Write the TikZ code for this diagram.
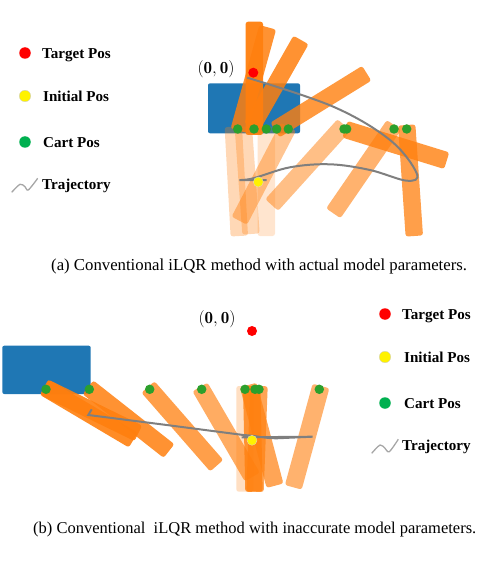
\documentclass[tikz,border=0pt]{standalone}
\usepackage{xcolor}
\usepackage{fontspec}
\usepackage{tikz}
\usetikzlibrary{calc}
\newfontfamily\capfont{Liberation Serif}
\definecolor{cpCart}{HTML}{1F77B4}
\definecolor{cpPole}{HTML}{FF7F0E}
\definecolor{cpPivot}{HTML}{2CA02C}
\definecolor{cpCartKey}{HTML}{00B050}
\definecolor{cpTraj}{HTML}{7F7F7F}
\definecolor{cpKey}{HTML}{A6A6A6}
\tikzset{
  cart/.style={fill=cpCart, rounded corners=2pt},
  pole/.style={fill=cpPole, rounded corners=2.5pt},
  dot/.style={circle, inner sep=0pt, minimum size=10pt},
  target/.style={dot, fill=red},
  initpos/.style={dot, fill=yellow, draw=black!15, line width=.3pt},
  pivot/.style={dot, fill=cpPivot, minimum size=9.5pt},
  keydot/.style={dot, minimum size=11.5pt},
  traj/.style={cpTraj, line width=2pt},
  keytraj/.style={cpKey, line width=1.3pt},
  keytext/.style={font=\capfont\fontsize{15.1}{17}\selectfont\bfseries, anchor=west, inner sep=0pt},
  caption/.style={font=\capfont\fontsize{16.75}{19}\selectfont, anchor=west, inner sep=0pt},
  origin/.style={font=\fontsize{17}{19}\selectfont, inner sep=0pt}
}
\newcommand{\polebar}[5]{
  \fill[pole, opacity=#5]
    ($(#1,#2)!8.7pt!90:(#3,#4)$) -- ($(#3,#4)!8.7pt!-90:(#1,#2)$) --
    ($(#3,#4)!8.7pt!90:(#1,#2)$) -- ($(#1,#2)!8.7pt!-90:(#3,#4)$) -- cycle;
}
\begin{document}
\begin{tikzpicture}[x=1pt, y=-1pt]
  \useasboundingbox (0,0) rectangle (479,564);

  \fill[cart] (208,83.3) rectangle (300,133.3);
  \foreach \xa/\ya/\xb/\yb/\op in {
    266.3/126.7/266.3/236/.2, 233.3/126.7/239.3/236/.3, 243.3/126.7/251/234/.3,
    288.3/126.7/239.3/220.7/.45, 344/125/271.7/205/.5, 394/125/333.3/213.3/.6,
    406.7/125/414.3/236/.75, 345/129.3/446.7/160.7/.8, 366.7/73.3/275/130/.8,
    301/40/251.7/126.7/.85, 267.7/27.3/239/130.7/.85, 254.3/21.7/254.3/135/.95}
    {\polebar{\xa}{\ya}{\xb}{\yb}{\op}}

  \draw[traj] plot[smooth, tension=.6] coordinates {(247.3,77.7) (333.3,106.7) (390,140)
    (416.7,173.3) (406.7,180.7) (370,170) (330,164.3) (290,167.3) (253.3,178.3) (239.3,180)}
    -- (266.7,180);

  \foreach \px/\py [count=\i] in {237.7/129, 254/129, 266.3/129, 276.7/129, 288.3/129,
    344/129, 346.7/129, 394/129, 406.7/129}
    \node[pivot] (upiv\i) at (\px,\py) {};
  \node[target] (utarget) at (253.3,72.7) {};
  \node[initpos] (uinit) at (258.3,182) {};
  \node[origin] (uorigin) at (216,69) {$(\mathbf{0},\mathbf{0})$};

  \node[keydot, fill=red] (ukeya) at (25,53) {};
  \node[keydot, fill=yellow, draw=black!20, line width=.3pt] (ukeyb) at (25,96) {};
  \node[keydot, fill=cpCartKey] (ukeyc) at (25,142) {};
  \node[keytext] (ulabela) at (42,55) {Target Pos};
  \node[keytext] (ulabelb) at (43,96.5) {Initial Pos};
  \node[keytext] (ulabelc) at (43,143) {Cart Pos};
  \node[keytext] (ulabeld) at (42,186) {Trajectory};
  \draw[keytraj] plot[smooth] coordinates {(11.7,192.3) (20,184.3) (25,186.7) (28.3,190) (37.7,178.3)};

  \node[caption] (ucaption) at (51,266) {(a) Conventional iLQR method with actual model parameters.};

  \fill[cart] (2.3,345.7) rectangle (90.7,394);
  \foreach \xa/\ya/\xb/\yb/\op in {
    245/386/245/491.7/.25, 321/386/293.3/487.3/.6, 200/387/252.3/477/.65,
    148/387/216.7/465.7/.75, 248.3/385/275/485.7/.7, 259/386/255/491.7/.7,
    251.7/386/254/491.7/.8, 88/387.3/169/451/.85, 44.3/387.3/138.3/433.3/.9,
    44.3/387.3/133.3/440/.9}
    {\polebar{\xa}{\ya}{\xb}{\yb}{\op}}

  \draw[traj] (91.7,409.3) -- (88.3,415) -- (166.7,425) -- (243.3,435)
    to[out=-3, in=180] (276.7,438.3) -- (312.7,436.7) -- (241.7,437.3);

  \foreach \px/\py [count=\i] in {46/389.3, 89.3/389.3, 149.7/389.3, 201.7/389.3, 245/389.3,
    255/389.3, 259/389.3, 319.3/389.3}
    \node[pivot] (lpiv\i) at (\px,\py) {};
  \node[target] (ltarget) at (252,331) {};
  \node[initpos] (linit) at (252,440.3) {};
  \node[origin] (lorigin) at (217,319) {$(\mathbf{0},\mathbf{0})$};

  \node[keydot, fill=red] (lkeya) at (385,314) {};
  \node[keydot, fill=yellow, draw=black!20, line width=.3pt] (lkeyb) at (385,357) {};
  \node[keydot, fill=cpCartKey] (lkeyc) at (385,403) {};
  \node[keytext] (llabela) at (402,316) {Target Pos};
  \node[keytext] (llabelb) at (404,357.5) {Initial Pos};
  \node[keytext] (llabelc) at (404,404) {Cart Pos};
  \node[keytext] (llabeld) at (402,447) {Trajectory};
  \draw[keytraj] plot[smooth] coordinates {(371.7,453.3) (380,445) (385,448.3) (389.3,451.7) (398.3,439.3)};

  \node[caption, font=\capfont\fontsize{16.5}{19}\selectfont] (lcaption) at (33,530) {(b) Conventional\ \ iLQR method with inaccurate model parameters.};
\end{tikzpicture}
\end{document}
